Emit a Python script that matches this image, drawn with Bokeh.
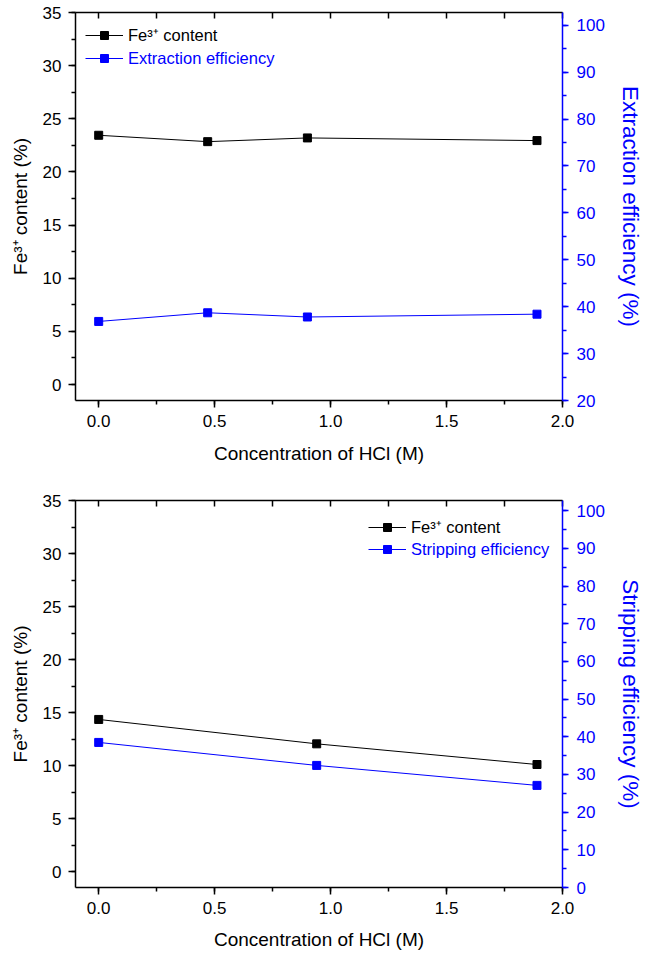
from bokeh.plotting import figure
from bokeh.models import (LinearAxis, Range1d, Legend, LegendItem,
                          SingleIntervalTicker, NumeralTickFormatter)
from bokeh.layouts import column
from bokeh.embed import file_html
from bokeh.resources import INLINE

FONT = "Liberation Sans"
BLUE = "#0000FF"

# ---- data, panel (a): extraction ----
hcl_a = [0.0, 0.47, 0.90, 1.89]
fe_a = [23.45, 22.85, 23.2, 22.95]
extr_a = [36.85, 38.7, 37.8, 38.4]

# ---- data, panel (b): stripping ----
hcl_b = [0.0, 0.94, 1.89]
fe_b = [14.35, 12.05, 10.1]
strip_b = [38.5, 32.4, 27.1]

x_label = "Concentration of HCl (M)"
fe_label = "Fe³⁺ content (%)"
fe_legend = "Fe³⁺ content"


def style_axis(ax, color="black"):
    ax.axis_line_color = color
    ax.axis_line_width = 1.5
    ax.major_tick_line_color = color
    ax.minor_tick_line_color = color
    ax.major_tick_line_width = 1.5
    ax.minor_tick_line_width = 1.5
    ax.major_tick_in = 0
    ax.major_tick_out = 7
    ax.minor_tick_in = 0
    ax.minor_tick_out = 4
    ax.major_label_text_font = FONT
    ax.major_label_text_font_size = "17px"
    ax.major_label_text_color = color
    ax.axis_label_text_font = FONT
    ax.axis_label_text_font_size = "19px"
    ax.axis_label_text_font_style = "normal"
    ax.axis_label_text_color = color


def make_panel(x, fe, eff, eff_axis_label, eff_legend, eff_lo, eff_hi,
               height, top, bottom, xlab_standoff, leg_x, leg_y1, leg_y2):
    p = figure(width=645, height=height,
               x_range=Range1d(-0.1, 2.0), y_range=Range1d(-1.5, 35),
               output_backend="svg", toolbar_location=None,
               min_border_left=75, min_border_right=78,
               min_border_top=top, min_border_bottom=bottom,
               x_axis_label=x_label, y_axis_label=fe_label)
    p.extra_y_ranges = {"eff": Range1d(eff_lo, eff_hi)}
    p.grid.visible = False
    p.outline_line_color = None
    p.background_fill_color = "white"
    p.border_fill_color = "white"

    xa = p.xaxis[0]
    style_axis(xa)
    xa.ticker = SingleIntervalTicker(interval=0.5, num_minor_ticks=2)
    xa.formatter = NumeralTickFormatter(format="0.0")
    xa.major_label_standoff = 7
    xa.axis_label_standoff = xlab_standoff

    ya = p.yaxis[0]
    style_axis(ya)
    ya.ticker = SingleIntervalTicker(interval=5, num_minor_ticks=2)
    ya.major_label_standoff = 7
    ya.axis_label_standoff = 9

    ra = LinearAxis(y_range_name="eff", axis_label=eff_axis_label,
                    ticker=SingleIntervalTicker(interval=10, num_minor_ticks=2))
    style_axis(ra, BLUE)
    ra.major_tick_out = 6
    ra.major_label_standoff = 8
    ra.axis_label_standoff = 10
    ra.axis_label_text_font_size = "22.5px"
    p.add_layout(ra, "right")

    ta = LinearAxis(ticker=SingleIntervalTicker(interval=0.25, num_minor_ticks=0))
    ta.axis_line_width = 1.5
    ta.major_tick_line_width = 1.5
    ta.major_tick_in = 6
    ta.major_tick_out = 0
    ta.minor_tick_in = 0
    ta.minor_tick_out = 0
    ta.major_label_standoff = 0
    ta.major_label_text_font_size = "0px"
    ta.major_label_text_alpha = 0
    p.add_layout(ta, "above")

    l1 = p.line(x, fe, line_color="black", line_width=1)
    s1 = p.scatter(x, fe, marker="square", size=8,
                   fill_color="black", line_color="black")
    l2 = p.line(x, eff, line_color=BLUE, line_width=1, y_range_name="eff")
    s2 = p.scatter(x, eff, marker="square", size=8, fill_color=BLUE,
                   line_color=BLUE, y_range_name="eff")

    common = dict(glyph_width=38, glyph_height=20, label_standoff=5,
                  padding=0, margin=0, spacing=0, border_line_color=None,
                  background_fill_alpha=0, label_text_font=FONT,
                  label_text_font_size="16.5px")
    leg1 = Legend(items=[LegendItem(label=fe_legend, renderers=[l1, s1])],
                  location=(leg_x, leg_y1), label_text_color="black", **common)
    leg2 = Legend(items=[LegendItem(label=eff_legend, renderers=[l2, s2])],
                  location=(leg_x, leg_y2), label_text_color=BLUE, **common)
    p.add_layout(leg1)
    p.add_layout(leg2)
    return p


p1 = make_panel(hcl_a, fe_a, extr_a, "Extraction efficiency (%)",
                "Extraction efficiency", 20, 102.7,
                height=484, top=12, bottom=84, xlab_standoff=13,
                leg_x=10, leg_y1=354, leg_y2=332)
p2 = make_panel(hcl_b, fe_b, strip_b, "Stripping efficiency (%)",
                "Stripping efficiency", 0, 102.7,
                height=468, top=16, bottom=64, xlab_standoff=12,
                leg_x=293, leg_y1=349, leg_y2=328)

layout = column(p1, p2)
open("out.html", "w").write(file_html(layout, INLINE))
